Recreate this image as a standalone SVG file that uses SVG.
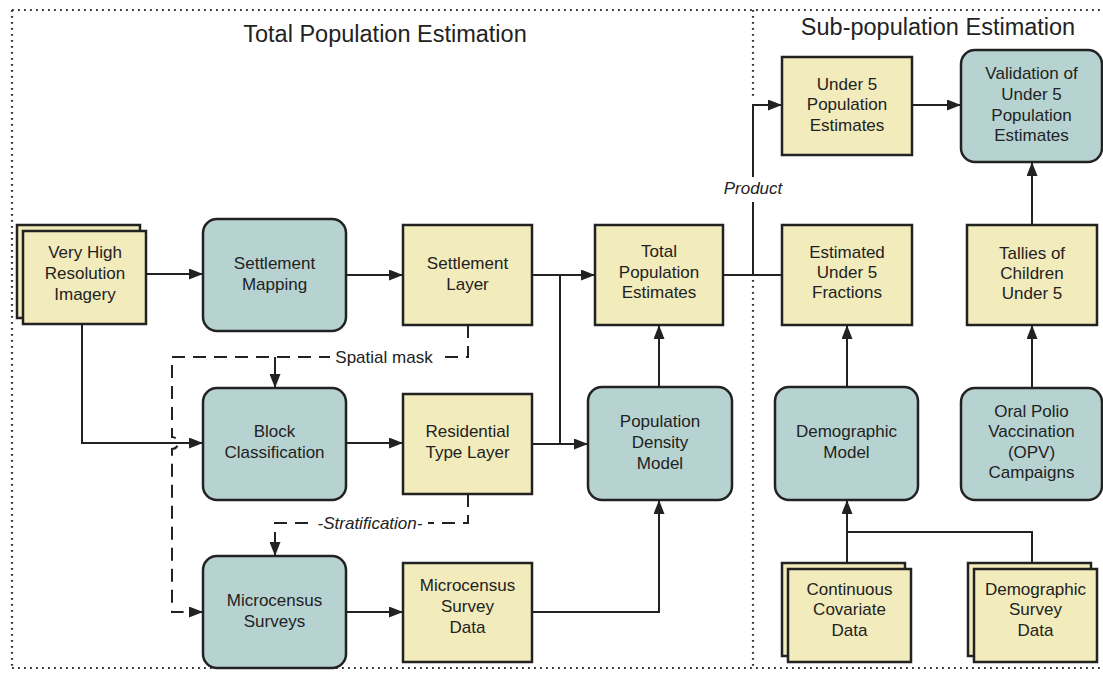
<svg xmlns="http://www.w3.org/2000/svg" width="1103" height="674" viewBox="0 0 1103 674">
<style>
.y{fill:#f2ebbb;stroke:#222;stroke-width:2.5}
.t{fill:#b7d3d1;stroke:#222;stroke-width:2.5}
.lbl{font-family:"Liberation Sans",Arial,sans-serif;font-size:17px;fill:#222;text-anchor:middle}
.it{font-style:italic}
.ttl{font-family:"Liberation Sans",Arial,sans-serif;font-size:23.5px;fill:#222;text-anchor:middle}
.c{fill:none;stroke:#222;stroke-width:2}
.d{fill:none;stroke:#222;stroke-width:2;stroke-dasharray:13 8}
.dot{fill:none;stroke:#333;stroke-width:2.2;stroke-dasharray:1.8 4.2}
</style>
<defs>
<marker id="ah" viewBox="0 0 14 11" refX="14" refY="5.5" markerWidth="14" markerHeight="11" markerUnits="userSpaceOnUse" orient="auto">
<path d="M0,0 L14,5.5 L0,11 z" fill="#222"/>
</marker>
</defs>
<rect width="1103" height="674" fill="#fff"/>
<g id="frame">
<path class="dot" d="M12,10 H1103 M12,10 V668 M12,668 H1103 M753,10 V100 M753,280 V668"/>
<text class="ttl" x="385" y="42">Total Population Estimation</text>
<text class="ttl" x="938" y="35">Sub-population Estimation</text>
</g>
<g id="connectors">
<path class="c" d="M146,274 H203" marker-end="url(#ah)"/>
<path class="c" d="M346,275 H403" marker-end="url(#ah)"/>
<path class="c" d="M532,275 H595" marker-end="url(#ah)"/>
<path class="c" d="M560,275 V444"/>
<path class="c" d="M659,387 V325" marker-end="url(#ah)"/>
<path class="c" d="M723,275 H782"/>
<path class="c" d="M753,275 V202"/>
<path class="c" d="M753,177 V105 H782" marker-end="url(#ah)"/>
<path class="c" d="M912,105 H961" marker-end="url(#ah)"/>
<path class="c" d="M1032,225 V162" marker-end="url(#ah)"/>
<path class="c" d="M847,387 V325" marker-end="url(#ah)"/>
<path class="c" d="M1032,387 V325" marker-end="url(#ah)"/>
<path class="c" d="M847,563 V500" marker-end="url(#ah)"/>
<path class="c" d="M1032,563 V532 H847"/>
<path class="c" d="M82,324 V443 H203" marker-end="url(#ah)"/>
<path class="c" d="M346,443 H403" marker-end="url(#ah)"/>
<path class="c" d="M532,444 H588" marker-end="url(#ah)"/>
<path class="c" d="M346,612 H403" marker-end="url(#ah)"/>
<path class="c" d="M532,612 H659 V500" marker-end="url(#ah)"/>
<path class="d" d="M468,325 V357 H172 V437 A6,6 0 0 1 172,449 V612 H203" marker-end="url(#ah)"/>
<path class="c" d="M275,357 V388" marker-end="url(#ah)"/>
<path class="d" d="M468,494 V523 H275 V556" marker-end="url(#ah)"/>
<rect x="330" y="347" width="108" height="21" fill="#fff"/>
<text class="lbl" x="384" y="363">Spatial mask</text>
<rect x="314" y="512" width="114" height="21" fill="#fff"/>
<text class="lbl it" x="370" y="529">-Stratification-</text>
<text class="lbl it" x="753" y="194">Product</text>
</g>
<g id="vhr">
<rect class="y" x="17" y="225" width="123" height="93"/>
<rect class="y" x="23" y="231" width="123" height="93"/>
<text class="lbl" x="85"><tspan x="85" y="258">Very High</tspan><tspan x="85" y="279">Resolution</tspan><tspan x="85" y="300">Imagery</tspan></text>
</g>
<g id="settlement-mapping">
<rect class="t" x="203" y="219" width="143" height="112" rx="14"/>
<text class="lbl"><tspan x="274.5" y="269">Settlement</tspan><tspan x="274.5" y="290">Mapping</tspan></text>
</g>
<g id="settlement-layer">
<rect class="y" x="403" y="225" width="129" height="100"/>
<text class="lbl"><tspan x="467.5" y="269">Settlement</tspan><tspan x="467.5" y="290">Layer</tspan></text>
</g>
<g id="total-pop">
<rect class="y" x="595" y="225" width="128" height="100"/>
<text class="lbl"><tspan x="659" y="257">Total</tspan><tspan x="659" y="278">Population</tspan><tspan x="659" y="298">Estimates</tspan></text>
</g>
<g id="est-fractions">
<rect class="y" x="782" y="225" width="130" height="100"/>
<text class="lbl"><tspan x="847" y="258">Estimated</tspan><tspan x="847" y="278">Under 5</tspan><tspan x="847" y="298">Fractions</tspan></text>
</g>
<g id="tallies">
<rect class="y" x="967" y="225" width="130" height="100"/>
<text class="lbl"><tspan x="1032" y="259">Tallies of</tspan><tspan x="1032" y="279">Children</tspan><tspan x="1032" y="299">Under 5</tspan></text>
</g>
<g id="under5">
<rect class="y" x="782" y="57" width="130" height="98"/>
<text class="lbl"><tspan x="847" y="90">Under 5</tspan><tspan x="847" y="110">Population</tspan><tspan x="847" y="131">Estimates</tspan></text>
</g>
<g id="validation">
<rect class="t" x="961" y="50" width="141" height="112" rx="14"/>
<text class="lbl"><tspan x="1031.5" y="79">Validation of</tspan><tspan x="1031.5" y="100">Under 5</tspan><tspan x="1031.5" y="121">Population</tspan><tspan x="1031.5" y="141">Estimates</tspan></text>
</g>
<g id="block-class">
<rect class="t" x="203" y="388" width="143" height="112" rx="14"/>
<text class="lbl"><tspan x="274.5" y="437">Block</tspan><tspan x="274.5" y="458">Classification</tspan></text>
</g>
<g id="res-type">
<rect class="y" x="403" y="394" width="129" height="100"/>
<text class="lbl"><tspan x="467.5" y="437">Residential</tspan><tspan x="467.5" y="458">Type Layer</tspan></text>
</g>
<g id="pop-density">
<rect class="t" x="588" y="387" width="144" height="113" rx="14"/>
<text class="lbl"><tspan x="660" y="427">Population</tspan><tspan x="660" y="448">Density</tspan><tspan x="660" y="469">Model</tspan></text>
</g>
<g id="demo-model">
<rect class="t" x="775" y="387" width="143" height="113" rx="14"/>
<text class="lbl"><tspan x="846.5" y="437">Demographic</tspan><tspan x="846.5" y="458">Model</tspan></text>
</g>
<g id="opv">
<rect class="t" x="961" y="388" width="141" height="112" rx="14"/>
<text class="lbl"><tspan x="1031.5" y="417">Oral Polio</tspan><tspan x="1031.5" y="437">Vaccination</tspan><tspan x="1031.5" y="458">(OPV)</tspan><tspan x="1031.5" y="478">Campaigns</tspan></text>
</g>
<g id="micro-surveys">
<rect class="t" x="203" y="556" width="143" height="112" rx="14"/>
<text class="lbl"><tspan x="274.5" y="606">Microcensus</tspan><tspan x="274.5" y="627">Surveys</tspan></text>
</g>
<g id="micro-data">
<rect class="y" x="403" y="563" width="129" height="99"/>
<text class="lbl"><tspan x="467.5" y="591">Microcensus</tspan><tspan x="467.5" y="612">Survey</tspan><tspan x="467.5" y="633">Data</tspan></text>
</g>
<g id="covariate">
<rect class="y" x="782" y="563" width="123" height="93"/>
<rect class="y" x="788" y="569" width="123" height="93"/>
<text class="lbl"><tspan x="849.5" y="595">Continuous</tspan><tspan x="849.5" y="615">Covariate</tspan><tspan x="849.5" y="636">Data</tspan></text>
</g>
<g id="demo-survey">
<rect class="y" x="968" y="563" width="123" height="93"/>
<rect class="y" x="974" y="569" width="123" height="93"/>
<text class="lbl"><tspan x="1035.5" y="595">Demographic</tspan><tspan x="1035.5" y="615">Survey</tspan><tspan x="1035.5" y="636">Data</tspan></text>
</g>
</svg>
